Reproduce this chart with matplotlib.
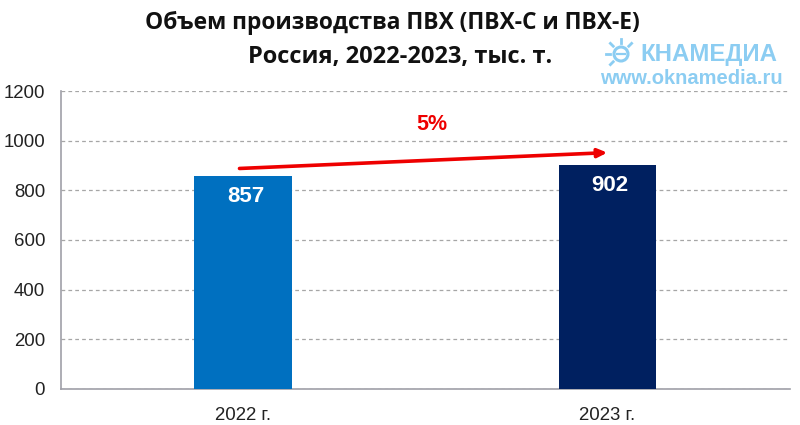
import numpy as np
import matplotlib
matplotlib.use("Agg")
import matplotlib.pyplot as plt
from matplotlib.patches import Circle

# data
years = ["2022 г.", "2023 г."]
volumes = [857, 902]
bar_colors = ["#0070c0", "#002060"]
y_ticks = [0, 200, 400, 600, 800, 1000, 1200]
growth_label = "5%"
arrow_x = [-0.01, 1.0]
arrow_y = [889, 953]

W, H = 800, 425
plt.rcParams['font.family'] = ['Liberation Sans', 'DejaVu Sans']

fig = plt.figure(figsize=(W / 100, H / 100), dpi=100)
ax = fig.add_axes([61.0 / W, 1 - 388.5 / H, (789.5 - 61.0) / W, 297.0 / H])

x = np.arange(len(years))
ax.bar(x, volumes, width=0.267, color=bar_colors, zorder=3)
ax.set_xlim(-0.5, 1.5)
ax.set_ylim(0, 1200)
ax.set_xticks(x)
ax.set_xticklabels(years, fontsize=13.4, color="#222222")
ax.set_yticks(y_ticks)
ax.tick_params(axis="y", labelsize=13.4, length=0, pad=11.5, labelcolor="#222222")
ax.tick_params(axis="x", length=0, pad=13)
ax.grid(axis="y", color="#a6a6a6", linestyle=(0, (3, 2.5)), linewidth=0.9, zorder=0)
ax.set_axisbelow(True)

for s in ["top", "right"]:
    ax.spines[s].set_visible(False)
for s in ["left", "bottom"]:
    ax.spines[s].set_color("#a0a0a8")
    ax.spines[s].set_linewidth(1.2)

# values inside the bars
for xi, v in zip(x, volumes):
    ax.annotate(str(v), (xi, v), xytext=(2, -14.5), textcoords="offset points",
                ha="center", va="center", color="white", fontsize=16,
                fontweight="bold", zorder=5)

# growth arrow
ax.annotate("", xy=(arrow_x[1], arrow_y[1]), xytext=(arrow_x[0], arrow_y[0]),
            arrowprops=dict(arrowstyle="-|>,head_length=0.55,head_width=0.25",
                            color="#ee0000", lw=2.6, shrinkA=0, shrinkB=0),
            zorder=6)
ax.text(0.518, 1065, growth_label, color="#ee0000", fontsize=15.5,
        fontweight="bold", ha="center", va="center", zorder=6)

# title
fig.text(392 / W, 1 - 23 / H, "Объем производства ПВХ (ПВХ-С и ПВХ-Е)",
         fontsize=16.4, fontweight="bold", family=["Open Sans", "DejaVu Sans"],
         ha="center", va="center", color="#111111")
fig.text(400 / W, 1 - 57 / H, "Россия, 2022-2023, тыс. т.",
         fontsize=17, fontweight="bold", family=["Open Sans", "DejaVu Sans"],
         ha="center", va="center", color="#111111")

# logo
logo_c = "#8ccdf2"
fig.text(640 / W, 1 - 54.5 / H, "КНАМЕДИА", fontsize=17.3, fontweight="bold",
         color=logo_c, ha="left", va="center")
fig.text(600 / W, 1 - 78 / H, "www.oknamedia.ru", fontsize=14.5, fontweight="bold",
         color=logo_c, ha="left", va="center")
cx, cy = 621, 54
fig.add_artist(Circle((cx, H - cy), 7, transform=None, fill=False,
                      edgecolor=logo_c, linewidth=2.2))
fig.add_artist(plt.Line2D([cx - 4, cx + 4], [H - cy, H - cy], transform=None,
                          color=logo_c, lw=1.6))
for ang in [90, 135, 180, 225, 45]:
    a = np.radians(ang)
    fig.add_artist(plt.Line2D([cx + 11 * np.cos(a), cx + 15 * np.cos(a)],
                              [H - cy + 11 * np.sin(a), H - cy + 15 * np.sin(a)],
                              transform=None, color=logo_c, lw=2))

fig.savefig("out.png", dpi=100)
